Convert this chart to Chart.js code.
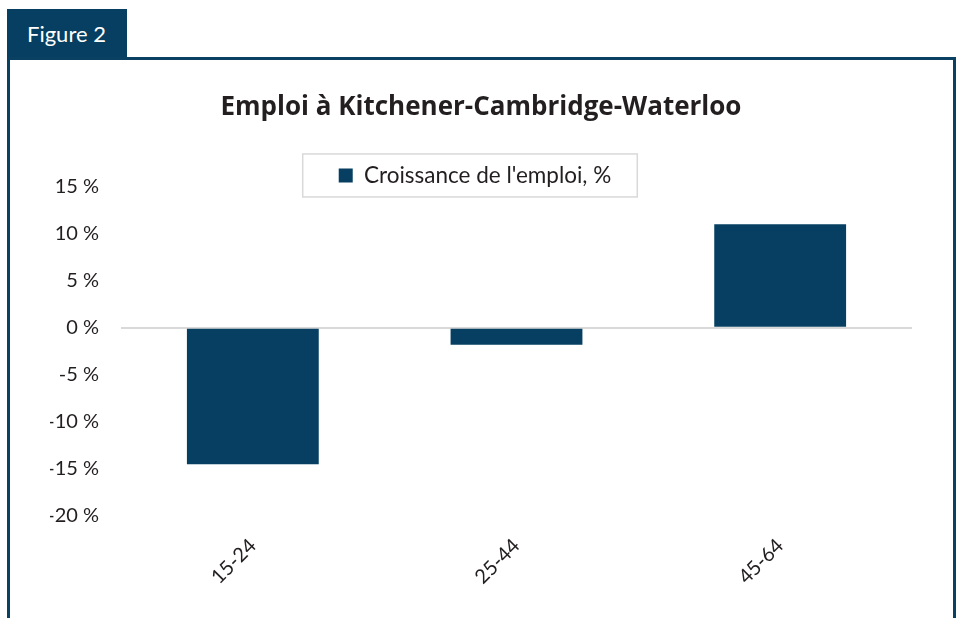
<!DOCTYPE html>
<html>
<head>
<meta charset="utf-8">
<script src="https://cdn.jsdelivr.net/npm/chart.js@4.4.0/dist/chart.umd.min.js"></script>
<style>
  body { margin: 0; background: #fff; }
  #wrap { position: relative; width: 956px; height: 618px; overflow: hidden; }
  #tab {
    position: absolute; left: 7px; top: 9px; width: 120px; height: 50px;
    background: #063f61; color: #fff;
    font: 22px Lato, sans-serif; line-height: 50px; box-sizing: border-box; padding-left: 20px;
  }
  #frame {
    position: absolute; left: 7px; top: 57px; width: 949px; height: 700px;
    border: 3px solid #0a4163; border-bottom: none; box-sizing: border-box;
  }
  #chart { position: absolute; left: 0; top: 0; }
</style>
</head>
<body>
<div id="wrap">
  <div id="tab">Figure 2</div>
  <div id="frame"></div>
  <canvas id="chart" width="956" height="618"></canvas>
</div>
<script>
// données du graphique
var categories = ['15-24', '25-44', '45-64'];
var croissance = [-14.5, -1.8, 11.0];
var serieNom = "Croissance de l'emploi, %";
var titre = 'Emploi à Kitchener-Cambridge-Waterloo';

var bleu = '#063f61';

// descend la légende un peu (elle chevauche le haut de la zone du graphique)
var decaleLegende = {
    id: 'decaleLegende',
    afterLayout: function(chart) {
        if (chart.legend) {
            chart.legend.top += 10;
            chart.legend.bottom += 10;
            chart.legend.left -= 6;
            chart.legend.right -= 6;
        }
    }
};

// cadre autour de la légende
var cadreLegende = {
    id: 'cadreLegende',
    afterDraw: function(chart) {
        var lg = chart.legend;
        if (!lg || !lg.legendHitBoxes || !lg.legendHitBoxes.length) return;
        var hb = lg.legendHitBoxes[0];
        var c = chart.ctx;
        c.save();
        c.strokeStyle = '#d9d9d9';
        c.lineWidth = 1.5;
        var cy = hb.top + hb.height / 2;
        c.strokeRect(hb.left - 36, cy - 21.5, hb.width + 62, 43);
        c.restore();
    }
};

var ctx = document.getElementById('chart').getContext('2d');
var myChart = new Chart(ctx, {
    type: 'bar',
    data: {
        labels: categories,
        datasets: [{
            label: serieNom,
            data: croissance,
            backgroundColor: bleu,
            borderWidth: 0,
            categoryPercentage: 1,
            barPercentage: 0.5
        }]
    },
    options: {
        responsive: false,
        animation: false,
        devicePixelRatio: 1,
        layout: { padding: { left: 50, right: 44, top: 0, bottom: 0 } },
        plugins: {
            title: {
                display: true,
                text: titre,
                color: '#231f20',
                font: { family: 'Open Sans', size: 26, weight: 'bold' },
                padding: { top: 92, bottom: 31 }
            },
            legend: {
                display: true,
                labels: {
                    color: '#231f20',
                    font: { family: 'Lato', size: 22.5 },
                    boxWidth: 14,
                    boxHeight: 14,
                    padding: 0
                }
            },
            tooltip: { enabled: false }
        },
        scales: {
            x: {
                grid: { display: false },
                border: { display: false },
                ticks: {
                    color: '#231f20',
                    font: { family: 'Lato', size: 20 },
                    maxRotation: 45,
                    minRotation: 45,
                    padding: 10
                },
                afterFit: function(scale) { scale.height = 102; }
            },
            y: {
                min: -20,
                max: 15,
                border: { display: false },
                grid: {
                    drawTicks: false,
                    lineWidth: 2,
                    color: function(c) { return c.tick && c.tick.value === 0 ? '#d9d9d9' : 'rgba(0,0,0,0)'; }
                },
                ticks: {
                    stepSize: 5,
                    color: '#231f20',
                    font: { family: 'Lato', size: 20 },
                    padding: 22,
                    callback: function(v) { return v + ' %'; }
                },
                afterFit: function(scale) { scale.width = 71; }
            }
        }
    },
    plugins: [decaleLegende, cadreLegende]
});
</script>
</body>
</html>
